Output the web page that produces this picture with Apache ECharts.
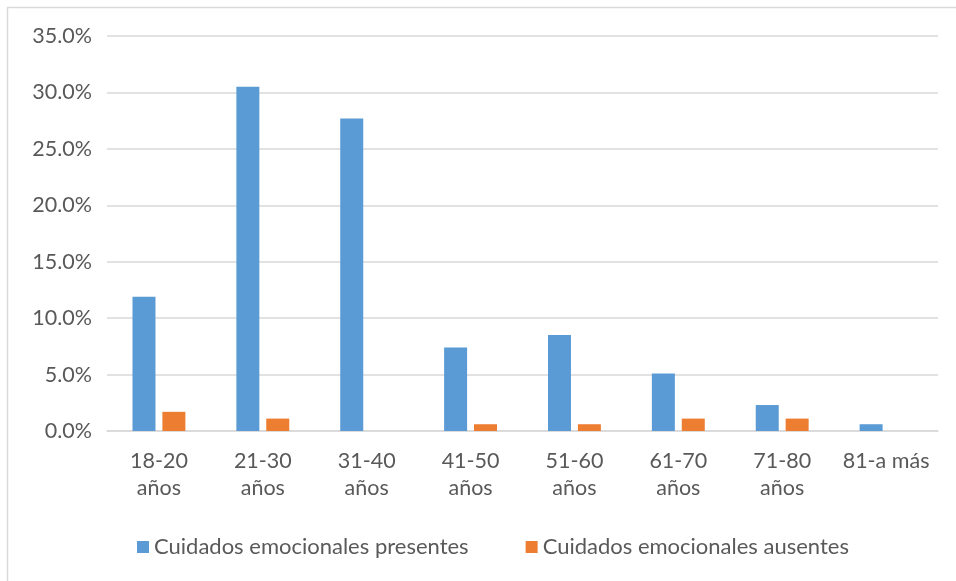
<!DOCTYPE html>
<html>
<head>
<meta charset="utf-8">
<script src="https://cdn.jsdelivr.net/npm/echarts@6/dist/echarts.min.js"></script>
<style>
  html, body { margin: 0; padding: 0; background: #ffffff; }
  #chart { width: 956px; height: 581px; }
</style>
</head>
<body>
<div id="chart"></div>
<script>
// Age groups (two-line labels) and share of people per group, in percent
const categories = ['18-20\naños', '21-30\naños', '31-40\naños', '41-50\naños', '51-60\naños', '61-70\naños', '71-80\naños', '81-a más'];
const presentes = [11.9, 30.5, 27.7, 7.4, 8.5, 5.1, 2.3, 0.6];
const ausentes = [1.7, 1.1, 0, 0.6, 0.6, 1.1, 1.1, 0];
const seriesNames = ['Cuidados emocionales presentes', 'Cuidados emocionales ausentes'];
const yTicks = { min: 0, max: 35, step: 5 };

const FONT = 'Lato, "Open Sans", sans-serif';
const TEXT = '#595959';
const GRID = '#d9d9d9';

const chart = echarts.init(document.getElementById('chart'), null, { renderer: 'canvas' });

chart.setOption({
  backgroundColor: '#ffffff',
  animation: false,
  textStyle: { fontFamily: FONT, color: TEXT },
  graphic: [
    { type: 'line', shape: { x1: 7, y1: 7.5, x2: 956, y2: 7.5 }, style: { stroke: GRID, lineWidth: 1.5 } },
    { type: 'line', shape: { x1: 7.5, y1: 7, x2: 7.5, y2: 581 }, style: { stroke: GRID, lineWidth: 1.5 } }
  ],
  grid: { left: 107, right: 18, top: 36, bottom: 150, containLabel: false },
  legend: {
    left: 132,
    top: 531,
    icon: 'rect',
    itemWidth: 12,
    itemHeight: 12,
    itemGap: 57,
    textStyle: { fontFamily: FONT, fontSize: 22, color: TEXT },
    data: seriesNames
  },
  xAxis: {
    type: 'category',
    data: categories,
    axisTick: { show: false },
    axisLine: { lineStyle: { color: GRID, width: 1.5 } },
    axisLabel: { fontFamily: FONT, fontSize: 21.5, color: TEXT, lineHeight: 27, margin: 17, interval: 0 }
  },
  yAxis: {
    type: 'value',
    min: yTicks.min,
    max: yTicks.max,
    interval: yTicks.step,
    axisLine: { show: false },
    axisTick: { show: false },
    splitLine: { lineStyle: { color: GRID, width: 1.5 } },
    axisLabel: {
      fontFamily: FONT, fontSize: 21.5, color: TEXT, margin: 15,
      formatter: v => v.toFixed(1) + '%'
    }
  },
  series: [
    {
      name: seriesNames[0],
      type: 'bar',
      data: presentes,
      barWidth: 23,
      barGap: '30%',
      itemStyle: { color: '#5B9BD5' }
    },
    {
      name: seriesNames[1],
      type: 'bar',
      data: ausentes,
      barWidth: 23,
      barGap: '30%',
      itemStyle: { color: '#ED7D31' }
    }
  ]
});
</script>
</body>
</html>
